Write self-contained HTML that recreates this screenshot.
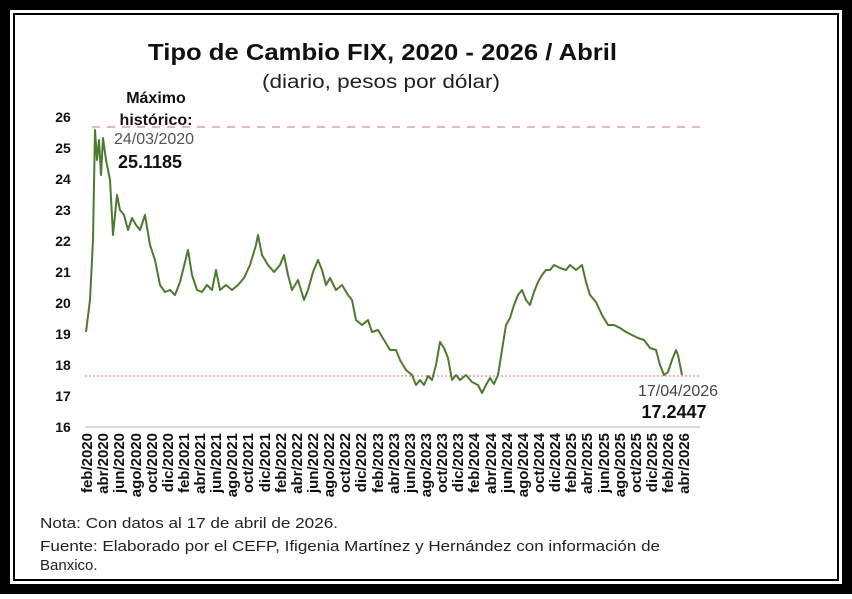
<!DOCTYPE html>
<html><head><meta charset="utf-8"><style>
body{margin:0;background:#fff;}
svg text{font-family:"Liberation Sans","DejaVu Sans",sans-serif;}
</style></head><body>
<svg width="852" height="594" viewBox="0 0 852 594" xmlns="http://www.w3.org/2000/svg">
<rect x="0" y="0" width="852" height="594" fill="#fff"/>
<rect x="5" y="5" width="842" height="584" fill="none" stroke="#000" stroke-width="10"/>
<rect x="14" y="14" width="824" height="566" fill="none" stroke="#000" stroke-width="2"/>
<text x="148" y="60" font-size="23" font-weight="bold" fill="#111" textLength="469" lengthAdjust="spacingAndGlyphs">Tipo de Cambio FIX, 2020 - 2026 / Abril</text>
<text x="262" y="88" font-size="19" fill="#222" textLength="238" lengthAdjust="spacingAndGlyphs">(diario, pesos por dólar)</text>
<g font-size="14" font-weight="bold" fill="#111" text-anchor="middle">
<text x="63" y="122">26</text><text x="63" y="153">25</text><text x="63" y="184">24</text><text x="63" y="215">23</text><text x="63" y="246">22</text><text x="63" y="277">21</text><text x="63" y="308">20</text><text x="63" y="339">19</text><text x="63" y="370">18</text><text x="63" y="401">17</text><text x="63" y="432">16</text>
</g>
<line x1="85" y1="427" x2="700" y2="427" stroke="#ccc" stroke-width="1.5"/>
<line x1="92" y1="127" x2="700" y2="127" stroke="#e3b8c0" stroke-width="2" stroke-dasharray="8,7"/>
<line x1="85" y1="376" x2="700" y2="376" stroke="#d66" stroke-width="1" stroke-dasharray="2,2"/>
<polyline fill="none" stroke="#4e7a30" stroke-width="2" stroke-linejoin="round" points="86,332 90,300 93,240 95,130 97,160 99,140 101,175 103,138 106,160 110,180 113,235 117,195 120,210 124,215 128,230 132,218 136,225 140,230 145,215 150,245 155,260 160,285 165,292 170,290 175,295 180,282 185,262 188,250 192,275 197,290 202,292 207,285 212,290 216,270 220,290 226,285 232,290 238,285 244,278 250,265 256,245 258,235 262,255 268,265 274,272 280,265 284,255 288,275 292,290 298,280 304,300 308,290 313,272 318,260 322,270 326,285 330,278 336,290 342,285 348,295 352,300 356,320 362,325 368,320 372,332 378,330 384,340 390,350 396,350 400,360 406,370 412,375 416,385 420,380 424,385 428,376 432,380 436,365 440,342 444,348 448,358 452,380 456,375 460,380 466,375 472,382 478,385 482,393 486,385 490,378 494,384 498,375 502,350 506,325 510,318 514,305 518,295 522,290 526,300 530,305 534,292 538,282 542,275 546,270 550,270 554,265 560,268 566,270 570,265 576,270 582,265 586,282 590,295 596,302 602,315 608,325 614,325 620,328 626,332 632,335 638,338 644,340 650,348 656,350 660,365 664,375 668,372 672,360 676,350 678,355 682,375"/>
<g font-size="15" font-weight="bold" fill="#111" text-anchor="end">
<text transform="translate(92,433) rotate(-90)">feb/2020</text>
<text transform="translate(108,433) rotate(-90)">abr/2020</text>
<text transform="translate(124,433) rotate(-90)">jun/2020</text>
<text transform="translate(141,433) rotate(-90)">ago/2020</text>
<text transform="translate(157,433) rotate(-90)">oct/2020</text>
<text transform="translate(173,433) rotate(-90)">dic/2020</text>
<text transform="translate(189,433) rotate(-90)">feb/2021</text>
<text transform="translate(205,433) rotate(-90)">abr/2021</text>
<text transform="translate(221,433) rotate(-90)">jun/2021</text>
<text transform="translate(237,433) rotate(-90)">ago/2021</text>
<text transform="translate(253,433) rotate(-90)">oct/2021</text>
<text transform="translate(270,433) rotate(-90)">dic/2021</text>
<text transform="translate(286,433) rotate(-90)">feb/2022</text>
<text transform="translate(302,433) rotate(-90)">abr/2022</text>
<text transform="translate(318,433) rotate(-90)">jun/2022</text>
<text transform="translate(334,433) rotate(-90)">ago/2022</text>
<text transform="translate(350,433) rotate(-90)">oct/2022</text>
<text transform="translate(366,433) rotate(-90)">dic/2022</text>
<text transform="translate(383,433) rotate(-90)">feb/2023</text>
<text transform="translate(399,433) rotate(-90)">abr/2023</text>
<text transform="translate(415,433) rotate(-90)">jun/2023</text>
<text transform="translate(431,433) rotate(-90)">ago/2023</text>
<text transform="translate(447,433) rotate(-90)">oct/2023</text>
<text transform="translate(463,433) rotate(-90)">dic/2023</text>
<text transform="translate(479,433) rotate(-90)">feb/2024</text>
<text transform="translate(496,433) rotate(-90)">abr/2024</text>
<text transform="translate(512,433) rotate(-90)">jun/2024</text>
<text transform="translate(528,433) rotate(-90)">ago/2024</text>
<text transform="translate(544,433) rotate(-90)">oct/2024</text>
<text transform="translate(560,433) rotate(-90)">dic/2024</text>
<text transform="translate(576,433) rotate(-90)">feb/2025</text>
<text transform="translate(592,433) rotate(-90)">abr/2025</text>
<text transform="translate(609,433) rotate(-90)">jun/2025</text>
<text transform="translate(625,433) rotate(-90)">ago/2025</text>
<text transform="translate(641,433) rotate(-90)">oct/2025</text>
<text transform="translate(657,433) rotate(-90)">dic/2025</text>
<text transform="translate(673,433) rotate(-90)">feb/2026</text>
<text transform="translate(689,433) rotate(-90)">abr/2026</text>
</g>
<g text-anchor="middle">
<text x="156" y="103" font-size="16" font-weight="bold" fill="#111">Máximo</text>
<text x="156" y="125" font-size="16" font-weight="bold" fill="#111">histórico:</text>
<text x="154" y="144" font-size="16" fill="#555">24/03/2020</text>
<text x="150" y="168" font-size="18" font-weight="bold" fill="#111">25.1185</text>
<text x="678" y="396" font-size="16" fill="#444">17/04/2026</text>
<text x="674" y="418" font-size="18" font-weight="bold" fill="#111">17.2447</text>
</g>
<g font-size="15" fill="#222">
<text x="40" y="528" textLength="298" lengthAdjust="spacingAndGlyphs">Nota: Con datos al 17 de abril de 2026.</text>
<text x="40" y="551" textLength="620" lengthAdjust="spacingAndGlyphs">Fuente: Elaborado por el CEFP, Ifigenia Martínez y Hernández con información de</text>
<text x="40" y="570">Banxico.</text>
</g>
</svg>
</body></html>
